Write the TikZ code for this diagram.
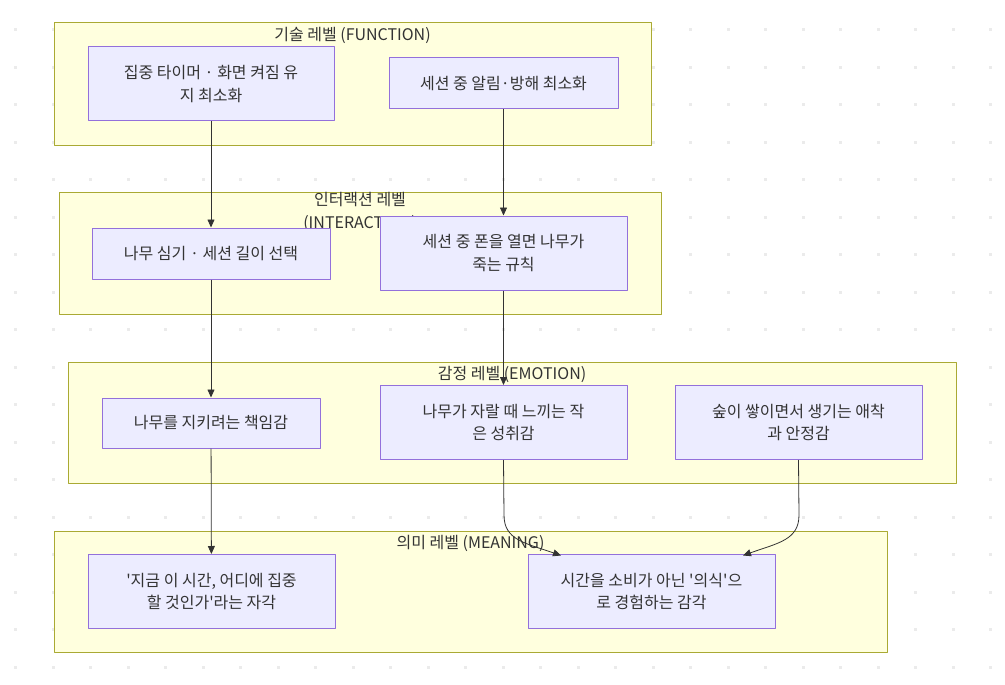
\documentclass[tikz,border=0pt]{standalone}
\usepackage{fontspec}
\setmainfont{Noto Sans CJK KR}
\definecolor{clfill}{HTML}{FFFFDE}
\definecolor{cldraw}{HTML}{AAAA33}
\definecolor{ndfill}{HTML}{ECECFF}
\definecolor{nddraw}{HTML}{9370DB}
\definecolor{edge}{HTML}{333333}
\definecolor{griddot}{HTML}{EBEBEB}
\tikzset{
  level/.style={draw=cldraw,fill=clfill,line width=1pt},
  leveltitle/.style={font=\fontsize{16pt}{23pt}\selectfont,inner sep=0pt,align=center,text=edge},
  box/.style={draw=nddraw,fill=ndfill,line width=1pt,minimum height=51pt,align=center,
    font=\fontsize{16pt}{22.5pt}\selectfont,text=edge,inner sep=0pt},
  flow/.style={draw=edge,line width=0.8pt,-{Triangle[length=8pt,width=7pt]}}
}
\usetikzlibrary{arrows.meta}
\begin{document}
\begin{tikzpicture}[x=1pt,y=-1pt,line join=round]
  \useasboundingbox (0,0) rectangle (1005,685);
  % background dots
  \foreach \i in {0,...,26} \foreach \j in {0,...,17}
    \fill[griddot] ({15.7+37.5*\i-1.5},{29.7+37.5*\j-1.5}) rectangle ++(3,3);
  % levels
  \draw[level] (54,23) rectangle (651,145);
  \node[leveltitle] (tfun) at (352.5,35.5) {기술 레벨 (FUNCTION)};
  \draw[level] (59,192) rectangle (661,314);
  \node[leveltitle,anchor=north] (tint) at (360,192) {인터랙션 레벨\\(INTERACTION)};
  \draw[level] (68,362) rectangle (956,483);
  \node[leveltitle] (temo) at (512,374.5) {감정 레벨 (EMOTION)};
  \draw[level] (54,531) rectangle (887,652);
  \node[leveltitle] (tmea) at (470.5,543.5) {의미 레벨 (MEANING)};
  % nodes
  \node[box,minimum width=246pt,minimum height=74pt] (timer) at (211,84) {집중 타이머 · 화면 켜짐 유\\지 최소화};
  \node[box,minimum width=229pt] (alarm) at (503.5,83.5) {세션 중 알림·방해 최소화};
  \node[box,minimum width=238pt] (plant) at (211,253.5) {나무 심기 · 세션 길이 선택};
  \node[box,minimum width=247pt,minimum height=74pt] (rule) at (503.5,253) {세션 중 폰을 열면 나무가\\죽는 규칙};
  \node[box,minimum width=218pt,minimum height=50pt] (duty) at (211,423) {나무를 지키려는 책임감};
  \node[box,minimum width=247pt,minimum height=74pt] (grow) at (503.5,422.5) {나무가 자랄 때 느끼는 작\\은 성취감};
  \node[box,minimum width=247pt,minimum height=74pt] (forest) at (798.5,422.5) {숲이 쌓이면서 생기는 애착\\과 안정감};
  \node[box,minimum width=247pt,minimum height=74pt] (aware) at (211.5,591.5) {\textquotesingle 지금 이 시간, 어디에 집중\\할 것인가\textquotesingle 라는 자각};
  \node[box,minimum width=247pt,minimum height=74pt] (ritual) at (651.5,591.5) {시간을 소비가 아닌 \textquotesingle 의식\textquotesingle 으\\로 경험하는 감각};
  % edges
  \draw[flow] (timer) -- (plant);
  \draw[flow] (alarm) -- (rule);
  \draw[flow] (plant) -- (duty);
  \draw[flow] (rule) -- (grow);
  \draw[flow] (duty) -- (aware);
  \coordinate (g1) at (504,515);
  \coordinate (f1) at (799,515);
  \draw[flow] (grow.south) -- (g1) .. controls (504,540) and (525,543) .. (561,555.5);
  \draw[flow] (forest.south) -- (f1) .. controls (799,540) and (778,543) .. (743,555.5);
\end{tikzpicture}
\end{document}
